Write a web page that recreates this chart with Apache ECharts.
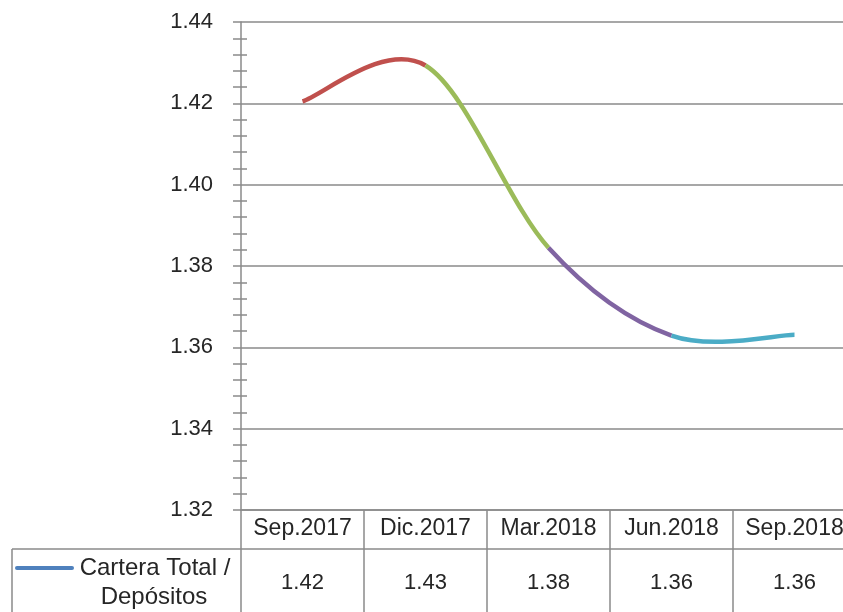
<!DOCTYPE html>
<html>
<head>
<meta charset="utf-8">
<title>Cartera Total / Depósitos</title>
<script src="https://cdn.jsdelivr.net/npm/echarts@6/dist/echarts.min.js"></script>
<style>
  html, body { margin: 0; padding: 0; background: #ffffff; }
  #chart { width: 843px; height: 612px; }
</style>
</head>
<body>
<div id="chart"></div>
<script>
// Quarterly ratio: total loan portfolio over deposits
const categories = ['Sep.2017', 'Dic.2017', 'Mar.2018', 'Jun.2018', 'Sep.2018'];
const ratioValues = [1.4205, 1.4293, 1.3845, 1.3629, 1.3631];
const seriesName = 'Cartera Total / Depósitos';
const legendLines = ['Cartera Total /', 'Depósitos'];
const segmentColors = ['#c0504d', '#9bbb59', '#8064a2', '#4bacc6'];
const legendColor = '#4f81bd';
const yMin = 1.32, yMax = 1.44, yStep = 0.02;

const FONT = 'Liberation Sans';
const TEXT = '#262626';
const GRID_GRAY = '#8a8a8a';

// Values shown in the data table row, rounded from the plotted series
const tableLabels = ratioValues.map(v => v.toFixed(2));

// Each curve piece runs from quarter i to i+1; neighbours shape the tangents
const last = ratioValues.length - 1;
const segmentData = ratioValues.slice(0, last).map((v, i) => [
  i,
  v,
  ratioValues[i + 1],
  ratioValues[Math.max(i - 1, 0)],
  ratioValues[Math.min(i + 2, last)]
]);

// Catmull-Rom style cubic piece between two points
function renderSegment(params, api) {
  const i = api.value(0);
  const prevIdx = Math.max(i - 1, 0);
  const nextIdx = Math.min(i + 2, last);
  const p1 = api.coord([i, api.value(1)]);
  const p2 = api.coord([i + 1, api.value(2)]);
  const p0 = api.coord([prevIdx, api.value(3)]);
  const p3 = api.coord([nextIdx, api.value(4)]);
  return {
    type: 'bezierCurve',
    shape: {
      x1: p1[0], y1: p1[1],
      x2: p2[0], y2: p2[1],
      cpx1: p1[0] + (p2[0] - p0[0]) / 6,
      cpy1: p1[1] + (p2[1] - p0[1]) / 6,
      cpx2: p2[0] - (p3[0] - p1[0]) / 6,
      cpy2: p2[1] - (p3[1] - p1[1]) / 6
    },
    style: {
      stroke: segmentColors[i % segmentColors.length],
      lineWidth: 4.5,
      fill: null,
      lineCap: 'butt'
    }
  };
}

const chart = echarts.init(document.getElementById('chart'), null, { renderer: 'canvas' });

chart.setOption({
  animation: false,
  backgroundColor: '#ffffff',
  grid: {
    left: 241, top: 22, width: 615, height: 488,
    containLabel: false,
    outerBoundsMode: 'none'
  },
  xAxis: [
    {
      type: 'category',
      data: categories,
      position: 'bottom',
      boundaryGap: true,
      axisLine: { show: true, lineStyle: { color: GRID_GRAY, width: 1.5 } },
      axisTick: { show: true, interval: 0, length: 102, lineStyle: { color: GRID_GRAY, width: 1.5 } },
      axisLabel: { interval: 0, margin: 7, color: TEXT, fontFamily: FONT, fontSize: 23, hideOverlap: false },
      splitLine: { show: false }
    },
    {
      // data-table value row
      type: 'category',
      data: tableLabels,
      position: 'bottom',
      offset: 62,
      boundaryGap: true,
      axisLine: { show: false },
      axisTick: { show: false },
      axisLabel: { interval: 0, margin: 0, color: TEXT, fontFamily: FONT, fontSize: 22, hideOverlap: false },
      splitLine: { show: false }
    }
  ],
  yAxis: [
    {
      type: 'value',
      min: yMin,
      max: yMax,
      interval: yStep,
      position: 'left',
      axisLine: { show: true, lineStyle: { color: GRID_GRAY, width: 1.5 } },
      axisTick: { show: true, length: 8, lineStyle: { color: GRID_GRAY, width: 1.5 } },
      minorTick: { show: true, splitNumber: 5, length: 8, lineStyle: { color: GRID_GRAY, width: 1.5 } },
      axisLabel: {
        margin: 28, color: TEXT, fontFamily: FONT, fontSize: 22,
        formatter: v => v.toFixed(2)
      },
      splitLine: { show: true, lineStyle: { color: GRID_GRAY, width: 1.5 } }
    },
    {
      // inner half of the crossing minor ticks
      type: 'value',
      min: yMin,
      max: yMax,
      interval: yStep,
      position: 'left',
      offset: 0,
      axisLine: { show: false },
      axisTick: { show: false, inside: true },
      minorTick: { show: true, splitNumber: 5, length: 6, lineStyle: { color: GRID_GRAY, width: 1.5 } },
      axisLabel: { show: false },
      splitLine: { show: false }
    }
  ],
  series: [
    {
      name: seriesName,
      type: 'custom',
      coordinateSystem: 'cartesian2d',
      xAxisIndex: 0,
      yAxisIndex: 0,
      encode: { x: 0, y: [1, 2] },
      data: segmentData,
      renderItem: renderSegment
    }
  ],
  graphic: [
    {
      type: 'line',
      shape: { x1: 12, y1: 549, x2: 843, y2: 549 },
      style: { stroke: GRID_GRAY, lineWidth: 1.5 }
    },
    {
      type: 'line',
      shape: { x1: 12, y1: 549, x2: 12, y2: 612 },
      style: { stroke: GRID_GRAY, lineWidth: 1.5 }
    },
    {
      type: 'line',
      shape: { x1: 17, y1: 568, x2: 72, y2: 568 },
      style: { stroke: legendColor, lineWidth: 4, lineCap: 'round' }
    },
    {
      type: 'text',
      x: 155, y: 568,
      style: {
        text: legendLines[0], fill: TEXT, font: '24px "' + FONT + '"',
        textAlign: 'center', textVerticalAlign: 'middle'
      }
    },
    {
      type: 'text',
      x: 154, y: 597,
      style: {
        text: legendLines[1], fill: TEXT, font: '24px "' + FONT + '"',
        textAlign: 'center', textVerticalAlign: 'middle'
      }
    }
  ]
});
</script>
</body>
</html>
